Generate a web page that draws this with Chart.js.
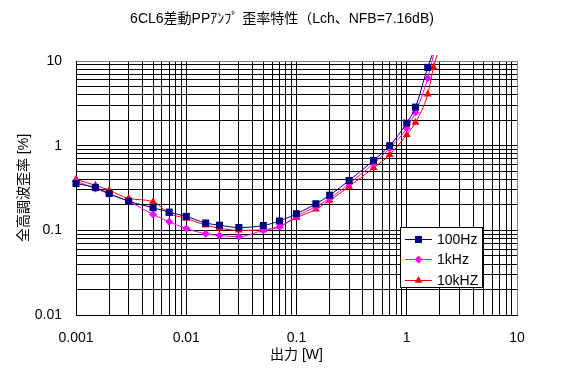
<!DOCTYPE html>
<html>
<head>
<meta charset="utf-8">
<script src="https://cdn.jsdelivr.net/npm/chart.js@4/dist/chart.umd.min.js"></script>
<style>
html,body{margin:0;padding:0;background:#fff;}
canvas{display:block;}
</style>
</head>
<body>
<canvas id="c" width="564" height="379"></canvas>
<script>
// ---- data ----
const chartTitle = '6CL6差動PPｱﾝﾌﾟ 歪率特性（Lch、NFB=7.16dB)';
const xTitle = '出力 [W]';
const yTitle = '全高調波歪率 [%]';
const xTickValues = [0.001, 0.01, 0.1, 1, 10];
const xTickLabels = ['0.001', '0.01', '0.1', '1', '10'];
const yTickValues = [0.01, 0.1, 1, 10];
const yTickLabels = ['0.01', '0.1', '1', '10'];
const seriesNames = ['100Hz', '1kHz', '10kHZ'];
const power = [0.001, 0.0015, 0.002, 0.003, 0.005, 0.007, 0.01, 0.015, 0.02, 0.03, 0.05, 0.07, 0.1, 0.15, 0.2, 0.3, 0.5, 0.7, 1.0, 1.2, 1.55, 1.75];
const power10k = [0.001, 0.0015, 0.002, 0.003, 0.005, 0.007, 0.01, 0.015, 0.02, 0.03, 0.05, 0.07, 0.1, 0.15, 0.2, 0.3, 0.5, 0.7, 1.0, 1.2, 1.55, 1.75, 2.0];
const thd100 = [0.357, 0.32, 0.272, 0.221, 0.185, 0.164, 0.146, 0.122, 0.115, 0.108, 0.114, 0.129, 0.157, 0.206, 0.26, 0.388, 0.67, 1.0, 1.85, 2.85, 8.4, 13];
const thd1k = [0.38, 0.312, 0.268, 0.22, 0.154, 0.126, 0.105, 0.091, 0.087, 0.084, 0.1, 0.11, 0.147, 0.19, 0.238, 0.357, 0.614, 0.93, 1.61, 2.47, 6.25, 11.8];
const thd10k = [0.40, 0.34, 0.298, 0.238, 0.218, 0.158, 0.138, 0.115, 0.106, 0.10, 0.101, 0.112, 0.141, 0.177, 0.225, 0.33, 0.547, 0.78, 1.35, 1.88, 4.06, 8.43, 15];

// ---- build ----
const FONT = "'Liberation Sans', Arial, 'Noto Sans CJK JP', sans-serif";
Chart.defaults.font.family = FONT;
Chart.defaults.font.size = 14;
Chart.defaults.color = '#000';

function pts(xs, ys) { return xs.map((x, i) => ({x: x, y: ys[i]})); }
function gridValues(vals) {
  const out = [];
  for (let i = 0; i < vals.length - 1; i++) {
    for (let k = 1; k <= 9; k++) out.push(k * vals[i]);
  }
  out.push(vals[vals.length - 1]);
  return out;
}
function labelFor(v, vals, labels) {
  for (let i = 0; i < vals.length; i++) {
    if (Math.abs(v - vals[i]) / vals[i] < 1e-6) return labels[i];
  }
  return '';
}
const colors = ['#000080', '#FF00FF', '#FF0000'];
const styles = ['rect', 'rectRot', 'triangle'];
const radii = [5, 4, 4.5];

const titlePlugin = {
  id: 'titleText',
  beforeDraw(chart) {
    const ctx = chart.ctx;
    ctx.save();
    ctx.fillStyle = '#fff';
    ctx.fillRect(0, 0, chart.width, chart.height);
    ctx.fillStyle = '#000';
    ctx.font = '14px ' + FONT;
    ctx.textAlign = 'center';
    ctx.textBaseline = 'middle';
    ctx.fillText(chartTitle, chart.width / 2, 19);
    ctx.restore();
  }
};

function drawMarker(ctx, style, x, y, r) {
  ctx.beginPath();
  if (style === 'rect') {
    const s = Math.SQRT1_2 * r;
    ctx.rect(x - s, y - s, 2 * s, 2 * s);
  } else if (style === 'rectRot') {
    ctx.moveTo(x, y - r); ctx.lineTo(x + r, y); ctx.lineTo(x, y + r); ctx.lineTo(x - r, y);
    ctx.closePath();
  } else {
    ctx.moveTo(x, y - r);
    ctx.lineTo(x + r * Math.sin(Math.PI * 2 / 3), y - r * Math.cos(Math.PI * 2 / 3));
    ctx.lineTo(x - r * Math.sin(Math.PI * 2 / 3), y - r * Math.cos(Math.PI * 2 / 3));
    ctx.closePath();
  }
  ctx.fill();
}

const legendPlugin = {
  id: 'boxLegend',
  afterDraw(chart) {
    const ctx = chart.ctx;
    const bx = 400.5, by = 227.5, bw = 82, bh = 60;
    ctx.save();
    ctx.fillStyle = '#fff';
    ctx.fillRect(bx, by, bw, bh);
    ctx.strokeStyle = '#000';
    ctx.lineWidth = 1;
    ctx.strokeRect(bx, by, bw, bh);
    const rows = [239, 259, 280];
    chart.data.datasets.forEach((ds, i) => {
      const y = rows[i];
      ctx.strokeStyle = ds.borderColor;
      ctx.beginPath();
      ctx.moveTo(405, y + 0.5);
      ctx.lineTo(432, y + 0.5);
      ctx.stroke();
      ctx.fillStyle = ds.backgroundColor;
      drawMarker(ctx, ds.pointStyle, 418.5, y + 0.5, ds.pointRadius);
      ctx.fillStyle = '#000';
      ctx.font = '14px ' + FONT;
      ctx.textAlign = 'left';
      ctx.textBaseline = 'middle';
      ctx.fillText(ds.label, 437, y + 1);
    });
    ctx.restore();
  }
};

const dataSets = [pts(power, thd100), pts(power, thd1k), pts(power10k, thd10k)];

new Chart(document.getElementById('c'), {
  type: 'line',
  data: {
    datasets: dataSets.map((d, i) => ({
      label: seriesNames[i],
      data: d,
      borderColor: colors[i],
      backgroundColor: colors[i],
      borderWidth: 1,
      pointStyle: styles[i],
      pointRadius: radii[i],
      pointBorderWidth: 0,
      pointHoverRadius: radii[i],
      cubicInterpolationMode: 'monotone',
      clip: {left: 8, top: 6, right: 8, bottom: 8}
    }))
  },
  options: {
    responsive: false,
    devicePixelRatio: 1,
    animation: false,
    events: [],
    layout: {padding: {top: 61, right: 47, left: 0, bottom: 0}},
    plugins: {legend: {display: false}, title: {display: false}, tooltip: {enabled: false}},
    scales: {
      x: {
        type: 'logarithmic',
        min: 0.001, max: 10,
        afterBuildTicks: (s) => { s.ticks = gridValues(xTickValues).map(v => ({value: v})); },
        afterFit: (s) => { s.height = 64; },
        ticks: {
          autoSkip: false, maxRotation: 0, minRotation: 0, padding: 15,
          font: {size: 14},
          callback: (v) => labelFor(v, xTickValues, xTickLabels)
        },
        grid: {
          drawTicks: false, lineWidth: 1,
          color: (c) => (c.tick && Math.abs(c.tick.value - 10) < 1e-6) ? '#808080' : '#000'
        },
        border: {color: '#000', width: 1},
        title: {display: true, text: xTitle, font: {size: 14}, padding: {top: 0, bottom: 15}}
      },
      y: {
        type: 'logarithmic',
        min: 0.01, max: 10,
        afterBuildTicks: (s) => { s.ticks = gridValues(yTickValues).map(v => ({value: v})); },
        afterFit: (s) => { s.width = 76; },
        ticks: {
          autoSkip: false, padding: 14,
          font: {size: 14},
          callback: (v) => labelFor(v, yTickValues, yTickLabels)
        },
        grid: {
          drawTicks: false, lineWidth: 1,
          color: (c) => (c.tick && Math.abs(c.tick.value - 10) < 1e-6) ? '#808080' : '#000'
        },
        border: {color: '#000', width: 1},
        title: {display: true, text: yTitle, font: {size: 14}, padding: {top: 16, bottom: 0}}
      }
    }
  },
  plugins: [titlePlugin, legendPlugin]
});
</script>
</body>
</html>
